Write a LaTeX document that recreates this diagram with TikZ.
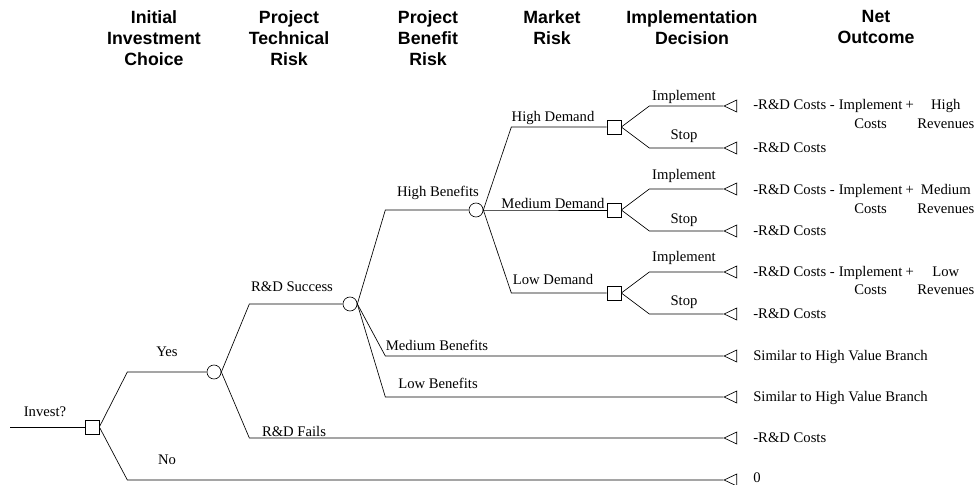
\documentclass[tikz,border=0pt]{standalone}
\usepackage{fontspec}
\setmainfont{Liberation Serif}
\newfontfamily\headfont{Liberation Sans}
\usetikzlibrary{positioning,calc,shapes.geometric}

\newcommand{\payoffcols}[2]{\begin{tabular}[t]{@{}l@{\hspace{3pt}}c@{\hspace{2.5pt}}c@{\hspace{2.5pt}}c@{}}-R\&D Costs -&Implement&+&#1\\&Costs&&#2\end{tabular}}

\begin{document}
\begin{tikzpicture}[x=0.75pt,y=-0.75pt,line width=0.5pt,
 every node/.style={font=\fontsize{11}{13.5}\selectfont},
 head/.style={font=\headfont\bfseries\fontsize{13.3}{16}\selectfont,align=center,anchor=north,inner sep=0},
 lbl/.style={inner sep=0},
 decide/.style={draw,rectangle,minimum size=10.5pt,inner sep=0},
 chance/.style={draw,circle,minimum size=10.5pt,inner sep=0},
 payoff/.style={draw,isosceles triangle,shape border rotate=180,isosceles triangle stretches,minimum width=9pt,minimum height=9.5pt,inner sep=0},
 outcome/.style={anchor=base west,inner sep=0}]
\useasboundingbox (0,0) rectangle (979,485);

\node[head] (h1) at (154,10) {Initial\\Investment\\Choice};
\node[head] (h2) at (289,10) {Project\\Technical\\Risk};
\node[head] (h3) at (428,10) {Project\\Benefit\\Risk};
\node[head] (h4) at (552,10) {Market\\Risk};
\node[head] (h5) at (692,10) {Implementation\\Decision};
\node[head] (h6) at (876,10) {Net\\Outcome};

\coordinate (in) at (10,427);
\node[decide] (d0) at (92,427) {};
\node[chance] (c1) at (214,372) {};
\node[chance] (c2) at (350,304) {};
\node[chance] (c3) at (476,210) {};
\node[decide] (d1) at (614,127) {};
\node[decide] (d2) at (614,210) {};
\node[decide] (d3) at (614,293) {};

\node[payoff] (t1) at (733,106) {};
\node[payoff] (t2) at (733,148) {};
\node[payoff] (t3) at (733,189) {};
\node[payoff] (t4) at (733,231) {};
\node[payoff] (t5) at (733,272) {};
\node[payoff] (t6) at (733,314) {};
\node[payoff] (t7) at (733,356) {};
\node[payoff] (t8) at (733,397) {};
\node[payoff] (t9) at (733,438) {};
\node[payoff] (t10) at (733,480) {};

\draw (in) -- (d0);
\draw (d0.east) -- ($(d0.east |- c1)+(28,0)$) -- (c1);
\draw (d0.east) -- ($(d0.east |- t10)+(28,0)$) -- (t10);
\draw (c1.east) -- ($(c1.east |- c2)+(28,0)$) -- (c2);
\draw (c1.east) -- ($(c1.east |- t9)+(28,0)$) -- (t9);
\draw (c2.east) -- ($(c2.east |- c3)+(28,0)$) -- (c3);
\draw (c2.east) -- ($(c2.east |- t7)+(28,0)$) -- (t7);
\draw (c2.east) -- ($(c2.east |- t8)+(28,0)$) -- (t8);
\draw (c3.east) -- ($(c3.east |- d1)+(28,0)$) -- (d1);
\draw (c3.east) -- ($(c3.east |- d2)+(28,0)$) -- (d2);
\draw (c3.east) -- ($(c3.east |- d3)+(28,0)$) -- (d3);
\draw (d1.east) -- ($(d1.east |- t1)+(28,0)$) -- (t1);
\draw (d1.east) -- ($(d1.east |- t2)+(28,0)$) -- (t2);
\draw (d2.east) -- ($(d2.east |- t3)+(28,0)$) -- (t3);
\draw (d2.east) -- ($(d2.east |- t4)+(28,0)$) -- (t4);
\draw (d3.east) -- ($(d3.east |- t5)+(28,0)$) -- (t5);
\draw (d3.east) -- ($(d3.east |- t6)+(28,0)$) -- (t6);

\node[lbl] (invest) at (45,412) {Invest?};
\node[lbl] (yes) at (167,352) {Yes};
\node[lbl] (no) at (167,460) {No};
\node[lbl] (succ) at (292,287) {R\&D Success};
\node[lbl] (fail) at (294,431) {R\&D Fails};
\node[lbl] (hb) at (438,193) {High Benefits};
\node[lbl] (mb) at (437,345) {Medium Benefits};
\node[lbl] (lb) at (438,383) {Low Benefits};
\node[lbl] (hd) at (553,118) {High Demand};
\node[lbl] (md) at (553,203) {Medium Demand};
\node[lbl] (ld) at (553,279) {Low Demand};
\node[lbl] (imp1) at (684,97) {Implement};
\node[lbl] (stop1) at (684,136) {Stop};
\node[lbl] (imp2) at (684,176) {Implement};
\node[lbl] (stop2) at (684,220) {Stop};
\node[lbl] (imp3) at (684,258) {Implement};
\node[lbl] (stop3) at (684,302) {Stop};

\node[outcome] (o1) at ($(t1)+(20,4)$) {\payoffcols{High}{Revenues}};
\node[outcome] (o2) at ($(t2)+(20,4)$) {-R\&D Costs};
\node[outcome] (o3) at ($(t3)+(20,6)$) {\payoffcols{Medium}{Revenues}};
\node[outcome] (o4) at ($(t4)+(20,4)$) {-R\&D Costs};
\node[outcome] (o5) at ($(t5)+(20,4)$) {\payoffcols{Low}{Revenues}};
\node[outcome] (o6) at ($(t6)+(20,4)$) {-R\&D Costs};
\node[outcome] (o7) at ($(t7)+(20,4)$) {Similar to High Value Branch};
\node[outcome] (o8) at ($(t8)+(20,4)$) {Similar to High Value Branch};
\node[outcome] (o9) at ($(t9)+(20,4)$) {-R\&D Costs};
\node[outcome] (o10) at ($(t10)+(20,2)$) {0};
\end{tikzpicture}
\end{document}
